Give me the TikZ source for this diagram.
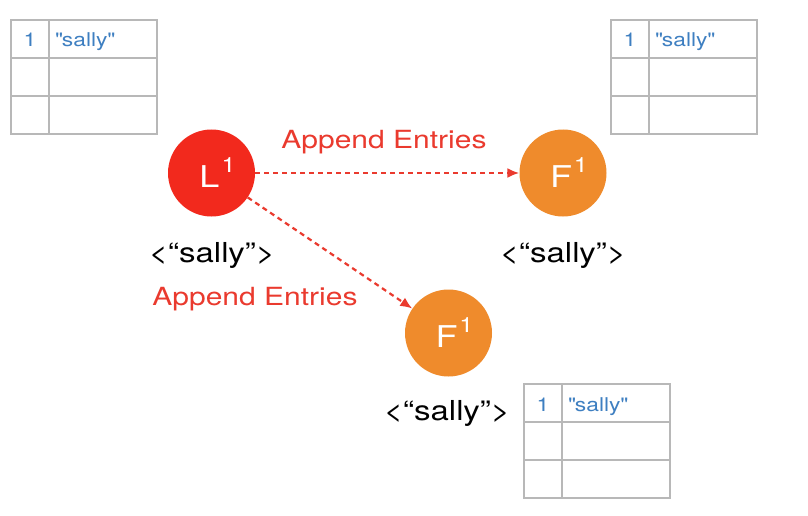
\documentclass[tikz,border=0pt]{standalone}
\usepackage{fontspec}
\setmainfont{TeX Gyre Heros}[FakeStretch=1.2]
\usetikzlibrary{arrows.meta}
\definecolor{lred}{HTML}{F2291D}
\definecolor{forange}{HTML}{EF8B2C}
\definecolor{ared}{HTML}{EA3A2E}
\definecolor{tblue}{HTML}{3E7FC1}
\definecolor{gridgray}{HTML}{B8B8B8}
\tikzset{
  servercirc/.style={circle, minimum size=87pt, inner sep=0pt, text=white,
    font=\fontsize{30}{32}\selectfont},
  leader/.style={servercirc, fill=lred},
  follower/.style={servercirc, fill=forange},
  tablegrid/.style={draw=gridgray, line width=1.3pt},
  idxtext/.style={anchor=base, inner sep=0pt, text=tblue, font=\fontsize{19}{21}\selectfont},
  valtext/.style={anchor=base west, inner sep=0pt, text=tblue, font=\fontsize{19}{21}\selectfont},
  statetext/.style={anchor=base, inner sep=0pt, text=black, font=\fontsize{27.5}{30}\selectfont},
  msgtext/.style={anchor=base, inner sep=0pt, text=ared, font=\fontsize{25}{28}\selectfont},
  msgarrow/.style={draw=ared, line width=2.2pt, dash pattern=on 5pt off 4pt,
    -{Latex[length=12pt,width=10pt]}},
  logtable/.pic={
    \draw[tablegrid] (0,0) rectangle (146,114);
    \draw[tablegrid] (38,0) -- (38,114);
    \draw[tablegrid] (0,38) -- (146,38);
    \draw[tablegrid] (0,76) -- (146,76);
    \node[idxtext] (-idx) at (19,27) {1};
    \node[valtext] (-val) at (44,27) {\textquotedbl sally\textquotedbl};
  }
}
\newcommand{\supone}{\hspace{2pt}\raisebox{15pt}{\fontsize{21}{21}\selectfont 1}}
\begin{document}
\begin{tikzpicture}[x=1pt,y=-1pt]
\fill[white] (0,0) rectangle (808,516);
\useasboundingbox (0,0) rectangle (808,516);

\pic (tl) at (11,20) {logtable};
\pic (tr) at (611,20) {logtable};
\pic (bt) at (524,384) {logtable};

\node[leader] (L) at (211.5,173) {\hspace*{12pt}L\supone};
\node[follower] (F1) at (563,173) {\hspace*{12pt}F\supone};
\node[follower] (F2) at (448.5,333) {\hspace*{12pt}F\supone};

\node[statetext] (sL) at (212,262) {<“sally”>};
\node[statetext] (s1) at (563,262) {<“sally”>};
\node[statetext] (s2) at (447,420) {<“sally”>};

\node[msgtext] (m1) at (384,148) {Append Entries};
\node[msgtext] (m2) at (255,305) {Append Entries};

\draw[msgarrow] (L) -- (F1);
\draw[msgarrow] (L) -- (F2);
\end{tikzpicture}
\end{document}
